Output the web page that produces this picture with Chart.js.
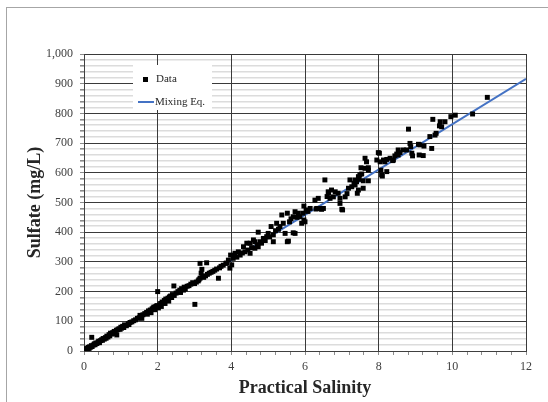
<!DOCTYPE html>
<html>
<head>
<meta charset="utf-8">
<script src="https://cdn.jsdelivr.net/npm/chart.js@4.4.1/dist/chart.umd.min.js"></script>
<style>
html,body{margin:0;padding:0;background:#fff;overflow:hidden;}
#wrap{position:relative;width:548px;height:402px;}
#frame{position:absolute;left:6px;top:7px;width:600px;height:450px;border:1px solid #a6a6a6;}
#grafSulfat{position:absolute;left:0;top:0;}
</style>
</head>
<body>
<div id="wrap">
  <div id="frame"></div>
  <canvas id="grafSulfat" width="548" height="402"></canvas>
</div>
<script>
var salinity = [
  0.02,0.04,0.05,0.06,0.08,0.10,0.11,0.12,0.14,0.15,
  0.18,0.20,0.21,0.22,0.25,0.28,0.30,0.32,0.35,0.38,
  0.40,0.42,0.45,0.48,0.50,0.52,0.55,0.58,0.60,0.62,
  0.65,0.68,0.70,0.72,0.75,0.78,0.80,0.82,0.85,0.88,
  0.89,0.92,0.95,0.98,1.00,1.02,1.05,1.08,1.10,1.15,
  1.20,1.22,1.25,1.30,1.35,1.40,1.45,1.50,1.52,1.57,
  1.60,1.65,1.70,1.72,1.75,1.80,1.82,1.85,1.88,1.90,
  1.92,1.95,1.98,2.00,2.02,2.05,2.08,2.10,2.12,2.15,
  2.18,2.20,2.22,2.25,2.28,2.30,2.32,2.35,2.38,2.40,
  2.44,2.45,2.50,
  2.55,2.60,2.62,2.65,2.70,2.72,2.75,2.80,2.85,2.90,
  2.95,3.00,3.01,3.05,3.10,3.12,3.15,3.15,3.18,3.20,
  3.22,3.25,3.30,3.33,3.35,3.40,3.45,3.50,3.55,3.60,
  3.65,3.68,3.72,3.78,3.85,3.87,3.92,3.96,3.98,4.01,
  4.05,4.08,4.10,4.15,4.19,4.24,
  4.30,4.33,4.37,4.42,4.45,4.51,4.51,4.55,4.60,4.64,
  4.64,4.70,4.73,4.73,4.78,4.82,4.87,4.92,4.96,
  5.00,5.04,5.08,5.14,5.14,5.20,5.23,5.28,5.32,5.37,
  5.41,5.46,5.52,5.52,5.55,5.58,5.62,5.68,5.68,5.73,
  5.73,5.78,5.82,5.86,5.91,5.95,5.97,5.97,6.00,6.03,
  6.08,6.14,
  6.27,6.30,6.32,6.36,6.41,6.45,6.50,6.54,6.60,6.63,
  6.64,6.68,6.72,6.77,6.82,6.90,6.95,6.95,7.00,7.02,
  7.09,7.14,7.18,7.22,7.27,7.33,7.36,7.36,7.40,7.42,
  7.45,7.45,7.47,7.49,7.52,7.54,7.58,7.58,7.63,7.63,
  7.67,7.72,7.72,7.72,
  7.95,7.99,8.02,8.04,8.06,8.08,8.10,8.13,8.17,8.22,
  8.22,8.31,8.38,8.40,8.44,8.49,8.53,8.53,8.58,8.67,
  8.76,8.81,8.85,8.87,8.90,8.92,9.08,9.10,9.12,9.21,
  9.23,
  9.39,9.44,9.47,9.53,9.56,9.65,9.67,9.71,9.80,9.96,
  10.08,10.55,10.95
];
var sulfate = [
  3,6,2,8,5,10,6,12,9,14,
  13,18,46,15,20,24,21,27,25,30,
  33,28,35,38,36,42,40,45,43,50,
  47,55,51,60,57,62,59,66,63,70,
  54,72,75,73,80,77,83,79,88,85,
  92,89,96,98,102,105,110,112,120,110,
  122,126,130,124,135,138,129,142,145,148,
  139,150,153,200,145,155,160,150,165,162,
  170,160,175,172,178,168,182,185,180,190,
  219,187,195,
  200,205,197,210,205,215,209,218,220,225,
  230,227,157,232,236,240,295,245,262,275,
  250,248,253,297,258,262,265,268,272,276,
  245,280,285,289,295,296,306,279,323,290,
  312,318,329,316,334,323,
  330,351,334,363,340,363,329,348,374,346,
  368,358,351,400,368,363,379,372,385,
  396,384,419,391,368,405,430,410,419,458,
  430,396,464,368,370,435,445,452,398,469,
  396,450,464,452,430,464,488,441,435,475,
  470,480,
  508,478,480,514,480,477,480,576,520,536,
  531,514,542,519,536,531,514,497,477,475,
  519,530,548,576,553,565,576,559,570,531,
  587,542,578,593,617,596,573,548,649,615,
  637,617,573,609,
  643,668,666,637,609,593,589,643,637,604,
  645,649,641,643,657,663,677,660,668,677,
  677,747,699,688,666,657,696,660,694,658,
  690,
  722,682,780,727,733,758,772,755,772,789,
  794,798,854
];

// mixing equation line end points
var mixingX = [0, 12];
var mixingY = [0, 916];

// axis setup
var xMin = 0, xMax = 12, xStep = 0.4, xLabelEvery = 2;
var yMin = 0, yMax = 1000, yStep = 20, yLabelEvery = 100;

var serif = "'Liberation Serif', 'Times New Roman', serif";

function mjera(v, every){
  return Math.abs(v / every - Math.round(v / every)) < 1e-6;
}

var podaciTocke = salinity.map(function(s, i){ return {x: s, y: sulfate[i]}; });
var podaciLinija = mixingX.map(function(s, i){ return {x: s, y: mixingY[i]}; });

var legendaPlugin = {
  id: 'legendaUnutra',
  afterDatasetsDraw: function(chart){
    var c = chart.ctx;
    var a = chart.chartArea;
    var lx = a.left + 49, ly = a.top + 11;
    c.save();
    c.fillStyle = '#ffffff';
    c.fillRect(lx, ly, 79, 45);
    c.fillStyle = '#000000';
    c.fillRect(lx + 10, ly + 12, 5, 5);
    c.font = '11px ' + serif;
    c.textBaseline = 'middle';
    c.fillStyle = '#262626';
    c.fillText('Data', lx + 23, ly + 14.5);
    c.strokeStyle = '#4472C4';
    c.lineWidth = 2;
    c.beginPath();
    c.moveTo(lx + 5, ly + 37);
    c.lineTo(lx + 21, ly + 37);
    c.stroke();
    c.fillText('Mixing Eq.', lx + 22, ly + 37);
    c.restore();
  }
};

var graf = new Chart(document.getElementById('grafSulfat'), {
  type: 'scatter',
  data: {
    datasets: [{
      label: 'Mixing Eq.',
      data: podaciLinija,
      showLine: true,
      borderColor: '#4472C4',
      borderWidth: 2,
      pointRadius: 0,
      fill: false,
      order: 2
    }, {
      label: 'Data',
      data: podaciTocke,
      pointStyle: 'rect',
      pointRadius: 3.5,
      pointBackgroundColor: '#000000',
      pointBorderWidth: 0,
      showLine: false,
      order: 1
    }]
  },
  options: {
    responsive: false,
    animation: false,
    layout: { padding: { top: 54, right: 22, left: 0, bottom: 0 } },
    plugins: {
      legend: { display: false },
      tooltip: { enabled: false }
    },
    scales: {
      x: {
        type: 'linear',
        min: xMin, max: xMax,
        afterFit: function(s){ s.height = 51; },
        ticks: {
          stepSize: xStep,
          autoSkip: false,
          maxRotation: 0,
          padding: 5,
          color: '#404040',
          font: { family: serif, size: 12 },
          callback: function(v){ return mjera(v, xLabelEvery) ? String(Math.round(v)) : ''; }
        },
        grid: {
          z: 0,
          color: function(ctx){ return mjera(ctx.tick.value, xLabelEvery) ? '#3a3a3a' : 'rgba(0,0,0,0)'; },
          tickColor: '#8c8c8c',
          tickLength: 4,
          lineWidth: 1
        },
        border: { color: '#404040', width: 1 },
        title: {
          display: true,
          text: 'Practical Salinity',
          color: '#262626',
          font: { family: serif, size: 18, weight: 'bold' },
          padding: { top: 0, bottom: 3 }
        }
      },
      y: {
        type: 'linear',
        min: yMin, max: yMax,
        afterFit: function(s){ s.width = 84; },
        ticks: {
          stepSize: yStep,
          autoSkip: false,
          padding: 7,
          color: '#404040',
          font: { family: serif, size: 12 },
          callback: function(v){ return mjera(v, yLabelEvery) ? v.toLocaleString('en-US') : ''; }
        },
        grid: {
          z: -1,
          color: function(ctx){ return mjera(ctx.tick.value, yLabelEvery) ? '#3a3a3a' : '#dcdcdc'; },
          lineWidth: function(ctx){ return mjera(ctx.tick.value, yLabelEvery) ? 1 : 1.6; },
          tickColor: '#8c8c8c',
          tickLength: 4
        },
        border: { color: '#404040', width: 1 },
        title: {
          display: true,
          text: 'Sulfate (mg/L)',
          color: '#262626',
          font: { family: serif, size: 18, weight: 'bold' },
          padding: { top: 25, bottom: 0 }
        }
      }
    }
  },
  plugins: [legendaPlugin]
});
</script>
</body>
</html>
